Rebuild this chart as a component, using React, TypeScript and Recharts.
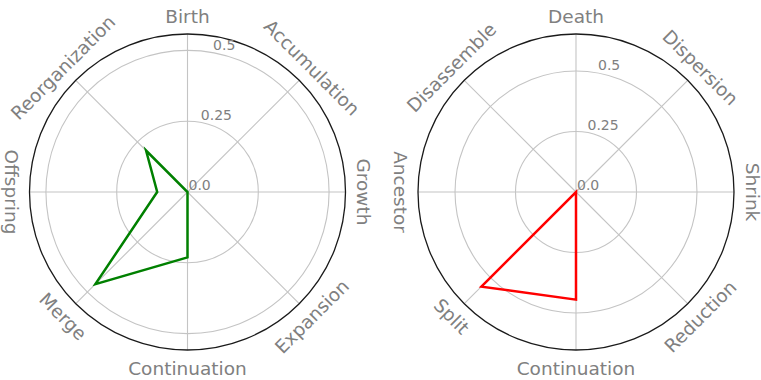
import { RadarChart, Radar, PolarGrid, PolarAngleAxis, PolarRadiusAxis } from 'recharts';

const birthLabels = ['Birth', 'Accumulation', 'Growth', 'Expansion', 'Continuation', 'Merge', 'Offspring', 'Reorganization'];
const birthValues = [0, 0, 0, 0, 0.231, 0.46, 0.107, 0.207];

const deathLabels = ['Death', 'Dispersion', 'Shrink', 'Reduction', 'Continuation', 'Split', 'Ancestor', 'Disassemble'];
const deathValues = [0, 0, 0, 0, 0.445, 0.553, 0, 0];

const radiusTicks = [0, 0.25, 0.5];
const birthMax = 0.558;
const deathMax = 0.653;

const FONT = 'DejaVu Sans, sans-serif';
const TEXT_GRAY = '#808080';
const OUTER = 158;
const CY = 192;

const RAD = Math.PI / 180;

// category labels sit just outside the rim, turned along the circle
function makeAngleTick(cx: number) {
  return (props: any) => {
    const coord = props.payload.coordinate as number;
    const r = OUTER + 18;
    const x = cx + r * Math.cos(-coord * RAD);
    const y = CY + r * Math.sin(-coord * RAD);
    let rot = (((90 - coord) % 180) + 180) % 180;
    if (rot > 90) rot -= 180;
    return (
      <text
        x={x}
        y={y}
        textAnchor="middle"
        dominantBaseline="central"
        transform={`rotate(${rot}, ${x}, ${y})`}
        fill={TEXT_GRAY}
        fontSize={18.5}
        fontFamily={FONT}
      >
        {props.payload.value}
      </text>
    );
  };
}

const radiusTick = (props: any) => (
  <text x={props.x + 1} y={props.y - 2.5} textAnchor="start" fill={TEXT_GRAY} fontSize={14} fontFamily={FONT}>
    {props.payload.value === 0 ? '0.0' : String(props.payload.value)}
  </text>
);

interface PolarPanelProps {
  labels: string[];
  values: number[];
  max: number;
  color: string;
  width: number;
  cx: number;
}

function PolarPanel({ labels, values, max, color, width, cx }: PolarPanelProps) {
  const data = labels.map((name, i) => ({ name, value: values[i] }));
  return (
    <RadarChart
      width={width}
      height={380}
      data={data}
      cx={cx}
      cy={CY}
      outerRadius={OUTER}
      startAngle={90}
      endAngle={-270}
      margin={{ top: 0, right: 0, bottom: 0, left: 0 }}
    >
      <PolarGrid gridType="circle" stroke="#c4c4c4" strokeWidth={1.1} />
      <PolarGrid gridType="circle" radialLines={false} polarRadius={[OUTER]} stroke="#1a1a1a" strokeWidth={1.3} />
      <PolarAngleAxis dataKey="name" axisLine={false} tickLine={false} tick={makeAngleTick(cx)} />
      <PolarRadiusAxis
        type="number"
        scale="linear"
        domain={[0, max]}
        ticks={radiusTicks}
        tickCount={3}
        allowDecimals
        allowDataOverflow
        angle={80}
        axisLine={false}
        tickLine={false}
        tick={radiusTick}
      />
      <Radar
        dataKey="value"
        stroke={color}
        strokeWidth={2.5}
        fill="none"
        fillOpacity={0}
        dot={false}
        isAnimationActive={false}
      />
    </RadarChart>
  );
}

export default function App() {
  return (
    <div style={{ position: 'absolute', left: 0, top: 0, width: 761, height: 380, display: 'flex', background: '#fff', overflow: 'hidden' }}>
      <PolarPanel labels={birthLabels} values={birthValues} max={birthMax} color="#008000" width={380} cx={187.5} />
      <PolarPanel labels={deathLabels} values={deathValues} max={deathMax} color="#ff0000" width={381} cx={196} />
    </div>
  );
}
